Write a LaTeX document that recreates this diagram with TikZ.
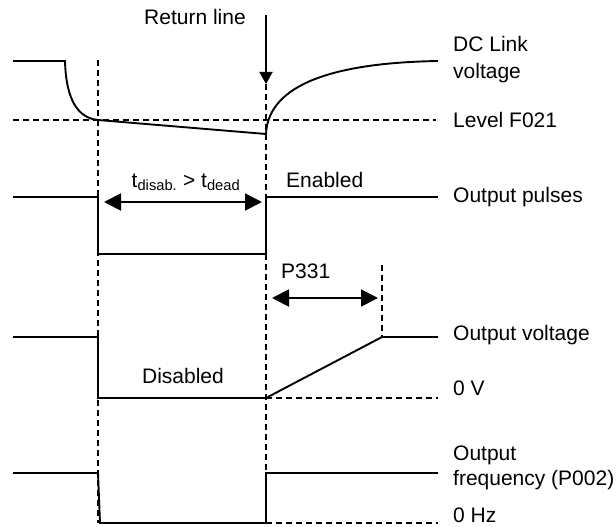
\documentclass[tikz,border=0pt]{standalone}
\usepackage{fontspec}
\setmainfont{Liberation Sans}
\usetikzlibrary{arrows.meta}
\begin{document}
\begin{tikzpicture}[x=1pt,y=-1pt,
  sig/.style={line width=1.9pt,line join=miter},
  guide/.style={line width=1.8pt,dash pattern=on 6pt off 4pt},
  bigtip/.style={line width=1.9pt,{Triangle[length=17pt,width=17pt]}-{Triangle[length=17pt,width=17pt]}},
  lbl/.style={font=\fontsize{21}{25}\selectfont,inner sep=0pt,anchor=base west},
  clbl/.style={font=\fontsize{21}{25}\selectfont,inner sep=0pt,anchor=base}]
\useasboundingbox (0,0) rectangle (616,527);
% vertical guides
\coordinate (gAtop) at (98,60);
\coordinate (gAbot) at (98,523);
\coordinate (gBtop) at (266,84);
\coordinate (gBbot) at (266,523);
\coordinate (gCtop) at (382,265);
\coordinate (gCbot) at (382,337);
\draw[guide] (gAtop) -- (gAbot);
\draw[guide] (gBtop) -- (gBbot);
\draw[guide] (gCtop) -- (gCbot);
% DC link
\coordinate (d0) at (13,61);
\coordinate (d1) at (65,61);
\coordinate (d2) at (98,120);
\coordinate (d3) at (266,134);
\coordinate (d4) at (438,61);
\coordinate (lv0) at (13,120);
\coordinate (lv1) at (436,120);
\draw[guide] (lv0) -- (lv1);
\draw[sig] (d0) -- (d1) .. controls (66,100) and (78,118) .. (d2) -- (d3)
  .. controls (268,90) and (320,63) .. (d4);
% return line
\node[clbl] (ret) at (195,25) {Return line};
\coordinate (r0) at (266,15);
\coordinate (r1) at (266,84);
\draw[line width=1.9pt,-{Triangle[length=12pt,width=13pt]}] (r0) -- (r1);
% output pulses
\coordinate (p0) at (13,197);
\coordinate (p1) at (98,197);
\coordinate (p2) at (98,254);
\coordinate (p3) at (266,254);
\coordinate (p4) at (266,197);
\coordinate (p5) at (438,197);
\draw[sig] (p0) -- (p1) -- (p2) -- (p3) -- (p4) -- (p5);
\coordinate (a0) at (104,202);
\coordinate (a1) at (262,202);
\draw[bigtip] (a0) -- (a1);
\node[clbl] (tlab) at (186,187) {t\textsubscript{disab.} > t\textsubscript{dead}};
\node[lbl] (en) at (286,187) {Enabled};
% output voltage
\coordinate (v0) at (13,337);
\coordinate (v1) at (98,337);
\coordinate (v2) at (98,398);
\coordinate (v3) at (266,398);
\coordinate (v4) at (382,337);
\coordinate (v5) at (438,337);
\coordinate (zv) at (438,398);
\draw[guide] (v3) -- (zv);
\draw[sig] (v0) -- (v1) -- (v2) -- (v3) -- (v4) -- (v5);
\coordinate (b0) at (272,298);
\coordinate (b1) at (378,298);
\draw[bigtip] (b0) -- (b1);
\node[lbl] (p331) at (281,278) {P331};
\node[clbl] (dis) at (183,383) {Disabled};
% output frequency
\coordinate (f0) at (13,473);
\coordinate (f1) at (98,473);
\coordinate (f2) at (100,523);
\coordinate (f3) at (266,523);
\coordinate (f4) at (266,473);
\coordinate (f5) at (438,473);
\coordinate (zf) at (438,523);
\draw[guide] (f3) -- (zf);
\draw[sig] (f0) -- (f1) -- (f2) -- (f3) -- (f4) -- (f5);
% right labels
\node[lbl] (l1) at (453,52) {DC Link};
\node[lbl] (l2) at (453,78) {voltage};
\node[lbl] (l3) at (453,127) {Level F021};
\node[lbl] (l4) at (453,202) {Output pulses};
\node[lbl] (l5) at (453,340) {Output voltage};
\node[lbl] (l6) at (453,395) {0 V};
\node[lbl] (l7) at (453,460) {Output};
\node[lbl] (l8) at (453,485) {frequency (P002)};
\node[lbl] (l9) at (453,522) {0 Hz};
\end{tikzpicture}
\end{document}
